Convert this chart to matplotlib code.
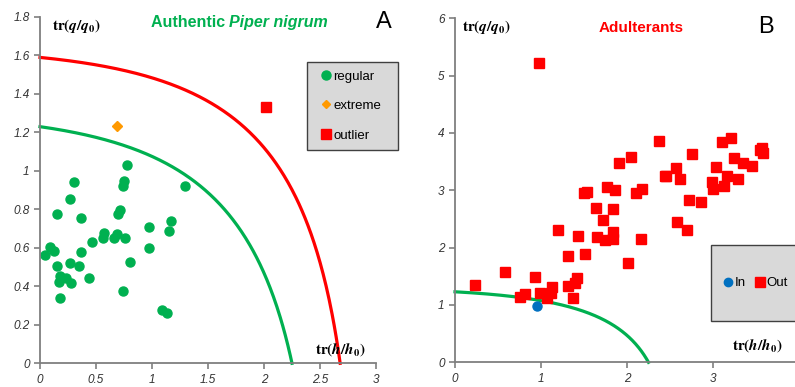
import numpy as np
import matplotlib
matplotlib.use('Agg')
import matplotlib.pyplot as plt
from matplotlib.lines import Line2D
from matplotlib.patches import Rectangle

plt.rcParams['font.family'] = 'Liberation Sans'
plt.rcParams['mathtext.fontset'] = 'stix'

# panel A: authentic samples
reg_x = [0.78, 0.75, 0.74, 0.30, 0.265, 1.295, 0.152, 0.369, 0.714, 0.70,
         0.973, 1.17, 1.149, 0.569, 0.5625, 0.6875, 0.66, 0.756, 0.467, 0.973,
         0.80, 0.047, 0.087, 0.125, 0.369, 0.155, 0.27, 0.351, 0.176, 0.235,
         0.167, 0.28, 0.435, 0.18, 0.744, 1.092, 1.131]
reg_y = [1.033, 0.946, 0.923, 0.943, 0.854, 0.923, 0.776, 0.755, 0.798, 0.776,
         0.706, 0.738, 0.686, 0.677, 0.651, 0.673, 0.651, 0.651, 0.63, 0.597,
         0.528, 0.5625, 0.602, 0.585, 0.578, 0.507, 0.521, 0.508, 0.455, 0.443,
         0.42, 0.417, 0.444, 0.337, 0.378, 0.278, 0.264]
ext_x = [0.69]
ext_y = [1.236]
out_x = [2.02]
out_y = [1.33]

# panel B: adulterants
adl_x = [0.98, 2.372, 2.05, 1.907, 2.442, 1.531, 1.50, 1.764, 1.86, 2.105,
         2.17, 1.636, 1.84, 1.717, 1.20, 1.434, 1.647, 1.744, 1.84, 1.84,
         2.163, 1.318, 1.512, 2.008, 3.10, 3.209, 2.76, 3.547, 3.585, 3.57,
         3.244, 3.345, 3.45, 2.57, 2.453, 2.616, 3.035, 3.159, 3.287, 2.985,
         2.996, 3.128, 2.725, 2.857, 2.585, 2.694, 0.233, 0.581, 0.93, 0.756,
         0.814, 0.988, 1.066, 1.124, 1.116, 1.318, 1.415, 1.395, 1.376]
adl_y = [5.218, 3.862, 3.589, 3.484, 3.251, 2.967, 2.949, 3.065, 3.007, 2.96,
         3.024, 2.698, 2.67, 2.483, 2.309, 2.204, 2.18, 2.134, 2.279, 2.146,
         2.152, 1.86, 1.885, 1.727, 3.85, 3.909, 3.635, 3.705, 3.647, 3.73,
         3.571, 3.484, 3.431, 3.397, 3.251, 3.193, 3.403, 3.251, 3.193, 3.152,
         3.019, 3.082, 2.832, 2.803, 2.454, 2.309, 1.349, 1.571, 1.494, 1.145,
         1.192, 1.204, 1.117, 1.309, 1.204, 1.332, 1.466, 1.379, 1.117]
in_x = [0.95]
in_y = [0.99]

# acceptance / outlier boundaries (axis intercepts)
acc_h, acc_q = 2.25, 1.23
out_h, out_q = 2.68, 1.59

GREEN = '#00b050'
RED = '#ff0000'
ORANGE = '#ff9900'
BLUE = '#0070c0'
GRAY = '#7f7f7f'
W, H = 795, 387

ylab = r'$\mathbf{tr(}\mathbfit{q}\mathbf{/}\mathbfit{q}_{\mathbf{0}}\mathbf{)}$'
xlab = r'$\mathbf{tr(}\mathbfit{h}\mathbf{/}\mathbfit{h}_{\mathbf{0}}\mathbf{)}$'


def boundary(h0, q0, n=300):
    x = np.linspace(0, h0, n)
    nh = 1 / np.expm1(h0)
    nq = 1 / np.expm1(q0)
    y = np.log1p((1 - nh * np.expm1(x)) / nq)
    return x, np.clip(y, 0, None)


def style(ax):
    for s in ['top', 'right']:
        ax.spines[s].set_visible(False)
    for s in ['left', 'bottom']:
        ax.spines[s].set_color(GRAY)
        ax.spines[s].set_linewidth(1.3)
    ax.tick_params(direction='out', length=4, width=1.2, color=GRAY,
                   labelsize=8.5, labelcolor='#333333')
    for lb in ax.get_xticklabels() + ax.get_yticklabels():
        lb.set_fontstyle('italic')


def legend_box(ax, x0, y0, x1, y1):
    # grey legend frame, given in figure pixels from the top-left corner
    r = Rectangle((x0 / W, 1 - y1 / H), (x1 - x0) / W, (y1 - y0) / H,
                  transform=ax.figure.transFigure, facecolor='#d9d9d9',
                  edgecolor='#404040', lw=1.0, clip_on=False, zorder=4)
    ax.add_patch(r)


fig = plt.figure(figsize=(W / 100, H / 100), dpi=100)

# ---- panel A
ax1 = fig.add_axes([40 / W, 1 - 363.3 / H, 336 / W, 346.3 / H])
ax1.set_xlim(0, 3)
ax1.set_ylim(0, 1.8)
ax1.set_xticks([0, 0.5, 1, 1.5, 2, 2.5, 3])
ax1.set_xticklabels(['0', '0.5', '1', '1.5', '2', '2.5', '3'])
ax1.set_yticks([0, 0.2, 0.4, 0.6, 0.8, 1, 1.2, 1.4, 1.6, 1.8])
ax1.set_yticklabels(['0', '0.2', '0.4', '0.6', '0.8', '1', '1.2', '1.4', '1.6', '1.8'])
style(ax1)

bx, by = boundary(acc_h, acc_q)
ax1.plot(bx, by, color=GREEN, lw=2.3, clip_on=False)
bx, by = boundary(out_h, out_q)
ax1.plot(bx, by, color=RED, lw=2.3, clip_on=False)
ax1.plot(reg_x, reg_y, 'o', color=GREEN, ms=6.5, mec=GREEN)
ax1.plot(ext_x, ext_y, 'D', color=ORANGE, ms=5, mec=ORANGE)
ax1.plot(out_x, out_y, 's', color=RED, ms=6.5, mec=RED)

ax1.text(0.035, 0.974, ylab, transform=ax1.transAxes, fontsize=11, va='center')
ax1.text(2.91, 0.07, xlab, fontsize=11, ha='right', va='center')
ax1.text(0.563, 0.985, 'Authentic ', transform=ax1.transAxes, color=GREEN,
         fontsize=11.5, fontweight='bold', ha='right', va='center')
ax1.text(0.563, 0.985, 'Piper nigrum', transform=ax1.transAxes, color=GREEN,
         fontsize=11.5, fontweight='bold', fontstyle='italic', ha='left', va='center')
ax1.text(1.022, 0.985, 'A', transform=ax1.transAxes, fontsize=17, ha='center', va='center')

legend_box(ax1, 307, 62, 398, 150)
h1 = [Line2D([], [], ls='', marker='o', color=GREEN, ms=6.5),
      Line2D([], [], ls='', marker='D', color=ORANGE, ms=4),
      Line2D([], [], ls='', marker='s', color=RED, ms=6.5)]
leg1 = ax1.legend(h1, ['regular', 'extreme', 'outlier'],
                  loc='center left', bbox_to_anchor=(322 / W, 1 - 106 / H),
                  bbox_transform=fig.transFigure, frameon=False,
                  fontsize=9.5, handlelength=0.6, handletextpad=0.25,
                  labelspacing=1.3, borderpad=0, borderaxespad=0)
leg1.set_zorder(5)

# ---- panel B
ax2 = fig.add_axes([455 / W, 1 - 362.3 / H, 344 / W, 344 / H])
ax2.set_xlim(0, 4)
ax2.set_ylim(0, 6)
ax2.set_xticks([0, 1, 2, 3])
ax2.set_yticks([0, 1, 2, 3, 4, 5, 6])
style(ax2)

bx, by = boundary(acc_h, acc_q)
ax2.plot(bx, by, color=GREEN, lw=2.3, clip_on=False)
ax2.plot(adl_x, adl_y, 's', color=RED, ms=6.5, mec=RED)
ax2.plot(in_x, in_y, 'o', color=BLUE, ms=6.5, mec=BLUE)

ax2.text(0.02, 0.975, ylab, transform=ax2.transAxes, fontsize=11, va='center')
ax2.text(3.81, 0.3, xlab, fontsize=11, ha='right', va='center')
ax2.text(0.54, 0.972, 'Adulterants', color=RED, transform=ax2.transAxes,
         fontsize=11, fontweight='bold', ha='center', va='center')
ax2.text(0.905, 0.975, 'B', transform=ax2.transAxes, fontsize=17, ha='center', va='center')

legend_box(ax2, 711, 245, 805, 321)
h2 = [Line2D([], [], ls='', marker='o', color=BLUE, ms=6),
      Line2D([], [], ls='', marker='s', color=RED, ms=6.5)]
leg2 = ax2.legend(h2, ['In', 'Out'], ncol=2,
                  loc='center left', bbox_to_anchor=(724 / W, 1 - 283 / H),
                  bbox_transform=fig.transFigure, frameon=False,
                  fontsize=9.5, handlelength=0.6, handletextpad=0.25,
                  columnspacing=0.7, borderpad=0, borderaxespad=0)
leg2.set_zorder(5)

fig.savefig('out.png', dpi=100)
